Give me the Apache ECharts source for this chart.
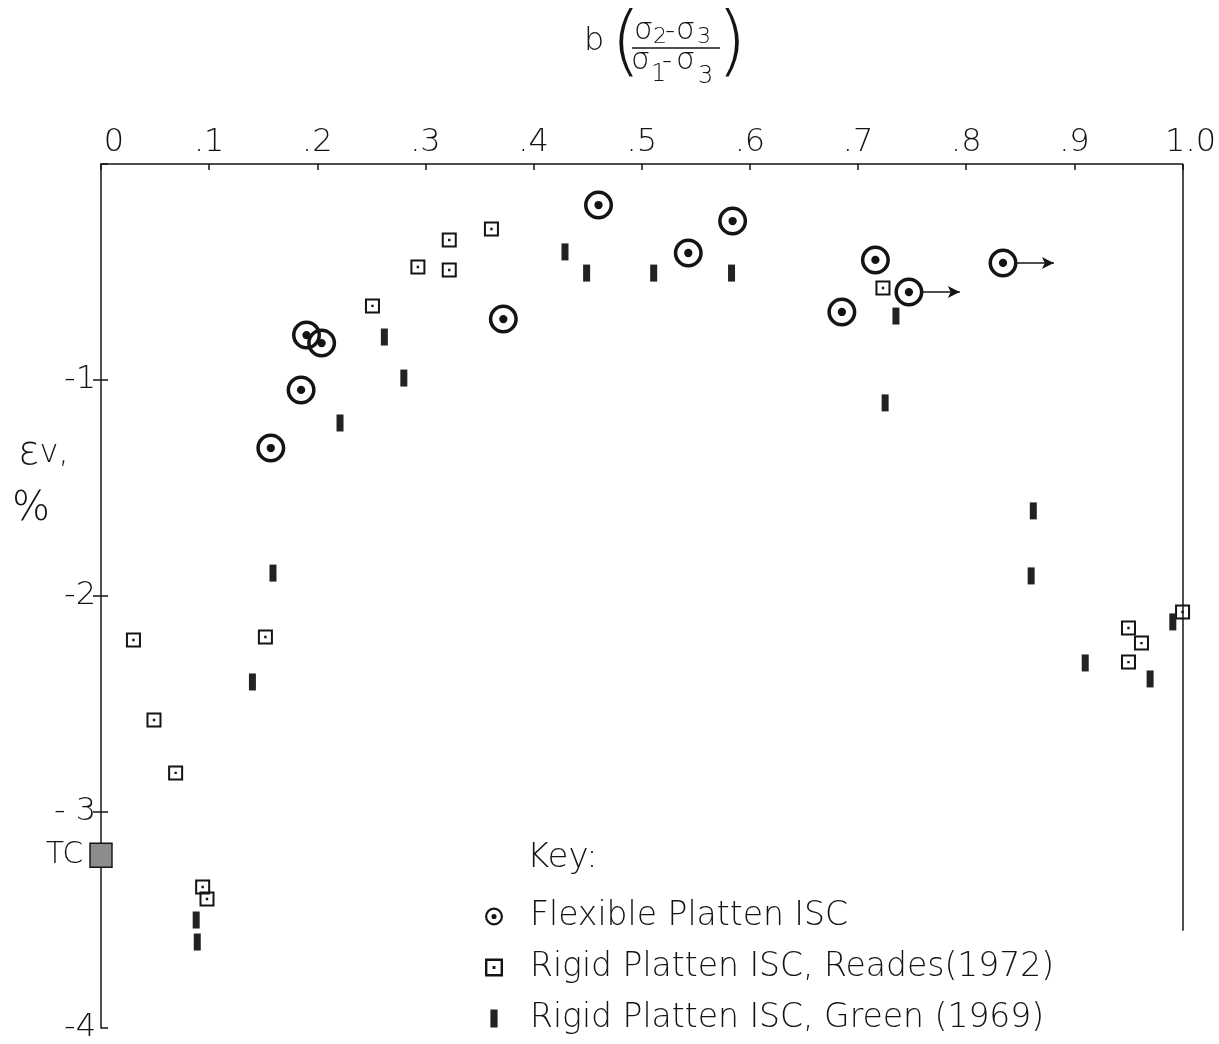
<!DOCTYPE html>
<html>
<head>
<meta charset="utf-8">
<script src="https://cdn.jsdelivr.net/npm/echarts@6/dist/echarts.min.js"></script>
<style>
  html, body { margin: 0; padding: 0; background: #fff; }
  #chart { width: 1219px; height: 1044px; }
</style>
</head>
<body>
<div id="chart"></div>
<script>
// Tick labels
const xTickLabels = ['0', '.1', '.2', '.3', '.4', '.5', '.6', '.7', '.8', '.9', '1.0'];
const yTickLabels = ['-4', '- 3', '-2', '-1', ''];   // for -4 .. 0

// Volumetric strain at failure vs b value, [b, εv %]
const flexiblePoints = [
  [0.157, -1.315], [0.185, -1.046], [0.190, -0.792], [0.204, -0.829],
  [0.372, -0.718], [0.460, -0.190], [0.543, -0.412], [0.584, -0.264],
  [0.685, -0.685], [0.716, -0.444], [0.747, -0.593], [0.834, -0.458]
];
// flexible tests still dilating at the end (drawn with an arrow)
const flexibleArrowed = [10, 11];

const readesPoints = [
  [0.030, -2.204], [0.049, -2.574], [0.069, -2.819], [0.094, -3.347],
  [0.098, -3.403], [0.152, -2.190], [0.251, -0.657], [0.293, -0.477],
  [0.322, -0.352], [0.322, -0.491], [0.361, -0.301], [0.723, -0.574],
  [0.950, -2.148], [0.962, -2.218], [0.950, -2.306], [1.000, -2.074]
];

const greenPoints = [
  [0.088, -3.500], [0.089, -3.602], [0.140, -2.398], [0.159, -1.894],
  [0.221, -1.199], [0.262, -0.801], [0.280, -0.991], [0.429, -0.407],
  [0.449, -0.505], [0.511, -0.505], [0.583, -0.505], [0.735, -0.704],
  [0.725, -1.106], [0.862, -1.606], [0.860, -1.907], [0.910, -2.310],
  [0.970, -2.384], [0.991, -2.120]
];

// triaxial compression reference point
const tcPoint = [0, -3.20];

const seriesNames = [
  'Flexible Platten ISC',
  'Rigid Platten ISC, Reades(1972)',
  'Rigid Platten ISC, Green (1969)'
];

const FONT = '"DejaVu Sans", "Noto Sans", sans-serif';
const INK = '#141414';

// ring with a centre dot
const ringSymbol = 'path://M0 -14A14 14 0 1 1 0 14A14 14 0 1 1 0 -14Z' +
  'M0 -10.6A10.6 10.6 0 1 0 0 10.6A10.6 10.6 0 1 0 0 -10.6Z' +
  'M0 -4A4 4 0 1 1 0 4A4 4 0 1 1 0 -4Z';
// open square with a centre dot
const boxSymbol = 'path://M0 0H15V15H0Z M2 2V13H13V2Z M6.3 6.3H8.7V8.7H6.3Z';
const barIcon = 'path://M0 0H6V15H0Z';

const arrowStart = 0.011, arrowEnd = 0.047;
const rightFrameBottom = -3.55;

const txt = (size) => ({ fontSize: size, fontWeight: 200, fontFamily: FONT, color: INK });
const glyph = (text, size, left, top) => ({
  type: 'text', left, top,
  style: { text, fontSize: size, fontWeight: 200, fontFamily: FONT, fill: INK }
});

const chart = echarts.init(document.getElementById('chart'));

chart.setOption({
  backgroundColor: '#fff',
  animation: false,
  textStyle: { fontFamily: FONT, color: INK },
  grid: { left: 101, right: 36, top: 164, bottom: 16, containLabel: false },
  title: {
    text: 'Key:',
    left: 522, top: 836,
    textStyle: txt(34)
  },
  legend: {
    data: [
      { name: seriesNames[0] },
      { name: seriesNames[1] },
      { name: seriesNames[2], icon: barIcon }
    ],
    orient: 'vertical',
    left: 480, top: 895,
    itemWidth: 62, itemHeight: 18, itemGap: 18,
    textStyle: txt(33),
    selectedMode: false
  },
  xAxis: {
    type: 'value',
    position: 'top',
    min: 0, max: 1, interval: 0.1,
    axisLine: { show: true, lineStyle: { color: INK, width: 1.5 } },
    axisTick: { show: true, inside: true, length: 6, lineStyle: { color: INK, width: 1.5 } },
    splitLine: { show: false },
    axisLabel: Object.assign(txt(32), {
      margin: 5,
      formatter: v => {
        const i = Math.round(v * 10);
        if (i === 0) return '{l|' + xTickLabels[i] + '}';
        if (i === 10) return '{r|' + xTickLabels[i] + '}';
        return xTickLabels[i];
      },
      rich: {
        l: Object.assign(txt(32), { padding: [0, 0, 0, 26] }),
        r: Object.assign(txt(32), { padding: [0, 0, 0, 16] })
      }
    })
  },
  yAxis: [{
    type: 'value',
    min: -4, max: 0, interval: 1,
    axisLine: { show: true, onZero: false, lineStyle: { color: INK, width: 1.5 } },
    axisTick: { show: true, inside: true, length: 7, lineStyle: { color: INK, width: 1.5 } },
    splitLine: { show: false },
    axisLabel: Object.assign(txt(32), {
      margin: 5,
      formatter: v => yTickLabels[Math.round(v) + 4]
    })
  }, {
    type: 'value',
    position: 'right',
    min: -4, max: 0, interval: 1,
    axisLine: { show: false },
    axisTick: { show: true, inside: true, length: 8, customValues: [-1, -2, -3],
                lineStyle: { color: INK, width: 1.5 } },
    axisLabel: { show: false },
    splitLine: { show: false }
  }],
  graphic: [
    { type: 'text', left: 18, top: 434,
      style: { text: '{e|ε}{v|v,}', rich: {
        e: { fontSize: 40, fontWeight: 200, fontFamily: FONT, fill: INK },
        v: { fontSize: 32, fontWeight: 200, fontFamily: FONT, fill: INK }
      } } },
    glyph('%', 40, 12, 490),
    // b ((σ2 - σ3) / (σ1 - σ3))
    glyph('b', 32, 584, 26),
    glyph('(', 76, 611, 8),
    glyph('σ', 30, 634, 16),
    glyph('2', 22, 653, 26),
    glyph('-', 28, 665, 18),
    glyph('σ', 30, 676, 16),
    glyph('3', 22, 697, 26),
    { type: 'line', shape: { x1: 632, y1: 48, x2: 720, y2: 48 },
      style: { stroke: INK, lineWidth: 1.5 } },
    glyph('σ', 30, 631, 46),
    glyph('1', 24, 651, 63),
    glyph('-', 28, 662, 48),
    glyph('σ', 30, 676, 46),
    glyph('3', 24, 698, 65),
    glyph(')', 76, 717, 8)
  ],
  series: [
    {
      name: seriesNames[0],
      type: 'scatter',
      data: flexiblePoints,
      symbol: ringSymbol,
      symbolSize: 29,
      symbolKeepAspect: true,
      itemStyle: { color: INK, opacity: 1 },
      clip: false,
      z: 4,
      markLine: {
        silent: true,
        symbol: ['none', 'arrow'],
        symbolSize: [9, 12],
        label: { show: false },
        lineStyle: { color: INK, width: 1.6, type: 'solid' },
        data: flexibleArrowed.map(i => [
          { coord: [flexiblePoints[i][0] + arrowStart, flexiblePoints[i][1]] },
          { coord: [flexiblePoints[i][0] + arrowEnd, flexiblePoints[i][1]] }
        ])
      }
    },
    {
      name: seriesNames[1],
      type: 'scatter',
      data: readesPoints,
      symbol: boxSymbol,
      symbolSize: 15,
      symbolKeepAspect: true,
      itemStyle: { color: INK, opacity: 1 },
      clip: false,
      z: 3,
      markLine: {
        silent: true,
        symbol: ['none', 'none'],
        label: { show: false },
        lineStyle: { color: INK, width: 1.5, type: 'solid' },
        data: [[{ coord: [1, 0] }, { coord: [1, rightFrameBottom] }]]
      }
    },
    {
      name: seriesNames[2],
      type: 'scatter',
      data: greenPoints,
      symbol: 'rect',
      symbolSize: [7, 17],
      symbolKeepAspect: true,
      itemStyle: { color: '#222', opacity: 1 },
      clip: false,
      z: 3
    },
    {
      name: 'TC',
      type: 'scatter',
      data: [tcPoint],
      symbol: 'rect',
      symbolSize: [22, 24],
      itemStyle: { color: '#8c8c8c', borderColor: INK, borderWidth: 1.5, opacity: 1 },
      clip: false,
      z: 5,
      label: Object.assign(txt(30), {
        show: true, position: 'left', distance: 6,
        formatter: 'TC'
      })
    }
  ]
});
</script>
</body>
</html>
